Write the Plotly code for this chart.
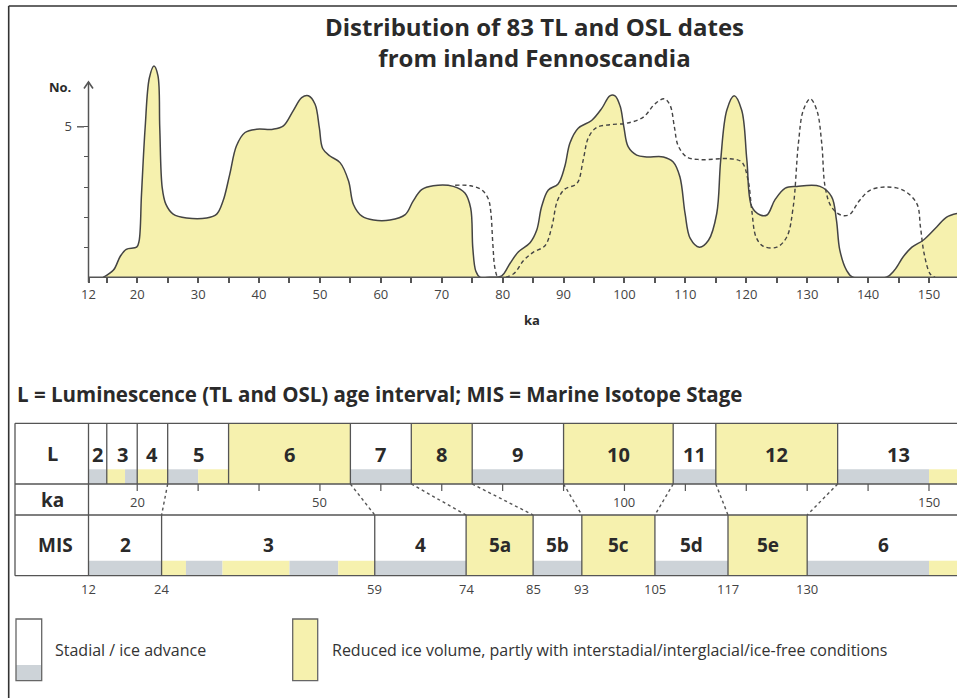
import plotly.graph_objects as go

# ---------------- data ----------------
SOLID_KA = [14.4, 16.1, 17.2, 18.2, 19.9, 20.3, 20.7, 21.3, 22.0, 22.75, 23.4, 23.7, 24.1, 24.7,
            25.9, 28.1, 31.4, 33.05, 34.1, 35.2, 36.3, 37.7, 39.6, 42.3, 44.0, 45.6, 47.0, 48.1,
            49.2, 49.9, 50.45, 51.65, 53.3, 54.7, 55.5, 56.9, 58.8, 61.5, 64.0, 65.3, 66.7, 68.6,
            71.9, 73.8, 74.75, 75.1, 75.6, 76.3, 77.9, 79.85, 81.2, 82.6, 84.5, 85.6, 86.4, 87.5,
            89.1, 90.2, 91.05, 92.4, 94.6, 96.3, 97.6, 98.45, 99.3, 99.9, 100.6, 102.0, 103.65,
            106.4, 108.0, 109.1, 109.95, 110.8, 112.3, 113.8, 115.15, 115.8, 116.8, 118.0, 119.25,
            120.1, 120.9, 122.3, 123.4, 124.7, 126.4, 128.3, 132.1, 134.0, 134.8, 135.35, 136.45,
            137.5, 143.0, 144.35, 145.8, 147.2, 149.1, 151.3, 152.9, 154.6]
SOLID_N = [0.0, 0.24, 0.69, 0.93, 1.0, 1.2, 2.75, 4.97, 6.63, 7.02, 6.7, 4.97, 2.98, 2.43,
           2.1, 1.97, 1.97, 2.1, 2.54, 3.43, 4.37, 4.81, 4.92, 4.92, 5.03, 5.53, 5.97, 6.03,
           5.75, 4.97, 4.28, 4.03, 3.81, 3.2, 2.42, 2.03, 1.9, 1.9, 2.08, 2.53, 2.91, 3.04,
           3.02, 2.8, 2.3, 0.97, 0.2, 0.0, 0.0, 0.05, 0.46, 0.85, 1.15, 1.57, 2.35, 2.9,
           3.1, 3.68, 4.46, 4.95, 5.21, 5.62, 6.03, 6.03, 5.68, 5.0, 4.34, 4.06, 4.0,
           4.0, 3.83, 3.34, 2.12, 1.29, 1.0, 1.23, 2.12, 3.89, 5.55, 6.03, 5.55,
           3.89, 2.35, 2.07, 2.07, 2.57, 2.96, 3.02, 3.02, 2.68, 1.91, 0.91, 0.24,
           0.0, 0.0, 0.24, 0.69, 1.0, 1.24, 1.68, 2.0, 2.12]

DASH_KA = [72.2, 74.7, 76.6, 77.65, 78.05, 78.4, 78.75, 79.3, 81.75, 83.4, 85.0, 86.95, 88.05,
           89.0, 90.2, 92.2, 93.2, 94.1, 95.45, 97.6, 100.4, 103.1, 105.0, 106.55, 107.5, 108.2,
           108.8, 110.2, 112.4, 117.3, 119.25, 120.3, 120.9, 121.6, 122.8, 125.0, 126.65, 127.7,
           128.55, 129.35, 130.5, 131.6, 132.4, 132.95, 134.0, 135.65, 137.0, 138.4, 140.3,
           143.05, 145.8, 148.0, 148.6, 149.2, 150.2, 151.0]
DASH_N = [3.06, 3.04, 2.9, 2.6, 2.18, 1.07, 0.29, 0.0, 0.11, 0.55, 0.83, 1.05, 1.66,
          2.55, 2.93, 3.12, 3.87, 4.65, 4.98, 5.07, 5.12, 5.32, 5.76, 5.93, 5.71, 4.99,
          4.38, 4.0, 3.91, 3.94, 3.83, 3.22, 2.23, 1.34, 1.03, 1.0, 1.34, 2.33,
          4.43, 5.54, 5.93, 5.54, 4.43, 3.0, 2.33, 2.06, 2.09, 2.5, 2.89,
          3.0, 2.89, 2.45, 1.67, 0.79, 0.11, 0.0]

TOP_TICK_VALS = [12, 15, 20, 25, 30, 35, 40, 45, 50, 55, 60, 65, 70, 75, 80, 85, 90, 95,
                 100, 105, 110, 115, 120, 125, 130, 135, 140, 145, 150]
TOP_TICK_TEXT = ['12', '', '20', '', '30', '', '40', '', '50', '', '60', '', '70', '', '80', '',
                 '90', '', '100', '', '110', '', '120', '', '130', '', '140', '', '150']
Y_TICK_VALS = [1, 2, 3, 4, 5]
Y_TICK_TEXT = ['', '', '', '', '5']

L_BOUNDS = [12, 15, 20, 25, 35, 55, 65, 75, 90, 108, 115, 135, 155]
L_LABELS = ['2', '3', '4', '5', '6', '7', '8', '9', '10', '11', '12', '13']
L_FILL = ['w', 'w', 'w', 'w', 'y', 'w', 'y', 'w', 'y', 'w', 'y', 'w']
L_STRIP_START = [12, 15, 18, 20, 25, 30, 55, 75, 108, 135, 150]
L_STRIP_END = [15, 18, 20, 25, 30, 35, 65, 90, 115, 150, 155]
L_STRIP_KIND = ['g', 'y', 'g', 'y', 'g', 'y', 'g', 'g', 'g', 'g', 'y']

MIS_BOUNDS = [12, 24, 59, 74, 85, 93, 105, 117, 130, 155]
MIS_LABELS = ['2', '3', '4', '5a', '5b', '5c', '5d', '5e', '6']
MIS_FILL = ['w', 'w', 'w', 'y', 'w', 'y', 'w', 'y', 'w']
MIS_STRIP_START = [12, 24, 28, 34, 45, 53, 59, 85, 105, 130, 150]
MIS_STRIP_END = [24, 28, 34, 45, 53, 59, 74, 93, 117, 150, 155]
MIS_STRIP_KIND = ['g', 'y', 'g', 'y', 'g', 'y', 'g', 'g', 'g', 'g', 'y']
MIS_EDGE_LABELS = [12, 24, 59, 74, 85, 93, 105, 117, 130]

KA_ROW_TICKS = [20, 30, 40, 50, 60, 70, 80, 90, 100, 110, 120, 130, 140, 150]
KA_ROW_LABELS = [20, 50, 100, 150]

CONNECT_L = [25, 55, 65, 75, 90, 108, 115, 135]
CONNECT_MIS = [24, 59, 74, 85, 93, 105, 117, 130]

TITLE = 'Distribution of 83 TL and OSL dates<br>from inland Fennoscandia'

# ---------------- style ----------------
W, H = 957, 698
YEL = '#F6F1AE'
GRY = '#CDD3D8'
LC = '#555555'
TC = '#2a2a2a'
FONT = 'Open Sans'
PX_PER_KA = 6.0905
X12_PX = 88.5
XR = [12 - X12_PX / PX_PER_KA, 12 + (W - X12_PX) / PX_PER_KA]
BASE_PX = 277.3
PX_PER_N = 30.1
SMOOTH = 1.0


def px(p):
    return p / W


def py(p):
    return 1 - p / H


fig = go.Figure()
fig.add_trace(go.Scatter(x=SOLID_KA, y=SOLID_N, mode='lines',
                         line=dict(color='#444444', width=1.5, shape='spline', smoothing=SMOOTH),
                         fill='tozeroy', fillcolor=YEL, hoverinfo='skip', showlegend=False))
fig.add_trace(go.Scatter(x=DASH_KA, y=DASH_N, mode='lines',
                         line=dict(color='#444444', width=1.4, dash='4px,3px', shape='spline', smoothing=SMOOTH),
                         hoverinfo='skip', showlegend=False))

shapes = []
ann = []


def rect(x0, x1, y0, y1, fill, xref='x', line=None):
    d = dict(type='rect', xref=xref, yref='paper', x0=x0, x1=x1, y0=py(y0), y1=py(y1),
             fillcolor=fill, layer='above')
    d['line'] = line if line else dict(width=0)
    shapes.append(d)


def hline(x0, x1, ypx, xref='paper', color=LC, width=1.3, dash='solid'):
    shapes.append(dict(type='line', xref=xref, yref='paper', x0=x0, x1=x1, y0=py(ypx), y1=py(ypx),
                       line=dict(color=color, width=width, dash=dash)))


def vline(x, y0px, y1px, xref='x', color=LC, width=1.3, dash='solid'):
    shapes.append(dict(type='line', xref=xref, yref='paper', x0=x, x1=x, y0=py(y0px), y1=py(y1px),
                       line=dict(color=color, width=width, dash=dash)))


# frame
hline(px(8.7), 1.0, 6, color='#333333', width=1.6)
vline(px(8.7), 6, H, xref='paper', color='#333333', width=1.6)

# top chart axes
hline(12, XR[1], BASE_PX, xref='x', color='#555555', width=1.5)
vline(px(X12_PX), BASE_PX + 5, 82, xref='paper', color='#555555', width=1.5)
shapes.append(dict(type='path', xref='paper', yref='paper',
                   path=f'M {px(X12_PX-4.5)},{py(88.5)} L {px(X12_PX)},{py(82)} L {px(X12_PX+4.5)},{py(88.5)}',
                   line=dict(color='#555555', width=1.6)))
shapes.append(dict(type='line', xref='paper', yref='y', x0=px(77), x1=px(84), y0=5, y1=5,
                   line=dict(color='#555555', width=1.4)))

# table geometry (px)
T_TOP, T_KA, T_MIS, T_BOT = 423.3, 484, 515, 575.7
L_STRIP_TOP, MIS_STRIP_TOP = 469.3, 560.7

# L row fills
for i, f in enumerate(L_FILL):
    if f == 'y':
        rect(L_BOUNDS[i], L_BOUNDS[i + 1], T_TOP, T_KA, YEL)
for s, e, k in zip(L_STRIP_START, L_STRIP_END, L_STRIP_KIND):
    rect(s, e, L_STRIP_TOP, T_KA, YEL if k == 'y' else GRY)
# MIS row fills
for i, f in enumerate(MIS_FILL):
    if f == 'y':
        rect(MIS_BOUNDS[i], MIS_BOUNDS[i + 1], T_MIS, T_BOT, YEL)
for s, e, k in zip(MIS_STRIP_START, MIS_STRIP_END, MIS_STRIP_KIND):
    rect(s, e, MIS_STRIP_TOP, T_BOT, YEL if k == 'y' else GRY)

# table lines
for ypx in (T_TOP, T_KA, T_MIS, T_BOT):
    hline(px(15), 1.0, ypx)
vline(px(15), T_TOP, T_BOT, xref='paper')
vline(12, T_TOP, T_BOT)
for b in L_BOUNDS[1:-1]:
    vline(b, T_TOP, T_KA)
for b in MIS_BOUNDS[1:-1]:
    vline(b, T_MIS, T_BOT)
for t in KA_ROW_TICKS:
    vline(t, T_KA, T_KA + 7, width=1.2)
for a, b in zip(CONNECT_L, CONNECT_MIS):
    shapes.append(dict(type='line', xref='x', yref='paper', x0=a, x1=b, y0=py(T_KA), y1=py(T_MIS),
                       line=dict(color=LC, width=1.4, dash='dot')))

# legend boxes
rect(px(16), px(41.7), 619, 680.7, 'white', xref='paper')
rect(px(16), px(41.7), 665, 680.7, GRY, xref='paper')
rect(px(16), px(41.7), 619, 680.7, 'rgba(0,0,0,0)', xref='paper', line=dict(color='#666666', width=1.3))
rect(px(292.7), px(317.7), 619, 680.7, YEL, xref='paper', line=dict(color='#666666', width=1.3))


def text(x, ypx, s, size, xref='x', bold=False, xanchor='center', color=TC):
    ann.append(dict(x=x, y=py(ypx), xref=xref, yref='paper', text=f'<b>{s}</b>' if bold else s,
                    showarrow=False, xanchor=xanchor, yanchor='middle',
                    font=dict(family=FONT, size=size, color=color)))


# titles
text(px(534), 42, TITLE, 24, xref='paper', bold=True)
text(px(60), 87, 'No.', 13, xref='paper', bold=True)
text(px(532), 320, 'ka', 13, xref='paper', bold=True)
text(px(15), 394, 'L = Luminescence (TL and OSL) age interval; MIS = Marine Isotope Stage', 20.5,
     xref='paper', bold=True, xanchor='left')

# table labels
text(px(52), (T_TOP + T_KA) / 2, 'L', 20, xref='paper', bold=True)
text(px(52), (T_KA + T_MIS) / 2 + 1, 'ka', 19, xref='paper', bold=True)
text(px(55), (T_MIS + T_BOT) / 2, 'MIS', 19, xref='paper', bold=True)
for i, lab in enumerate(L_LABELS):
    c = (L_BOUNDS[i] + L_BOUNDS[i + 1]) / 2
    if i == len(L_LABELS) - 1:
        c = 145
    text(c, (T_TOP + T_KA) / 2 + 1, lab, 20, bold=True)
for i, lab in enumerate(MIS_LABELS):
    c = (MIS_BOUNDS[i] + MIS_BOUNDS[i + 1]) / 2
    text(c, (T_MIS + T_BOT) / 2, lab, 19, bold=True)
for v in KA_ROW_LABELS:
    text(v, 502, str(v), 13, color='#444444')
for v in MIS_EDGE_LABELS:
    text(v, 589, str(v), 13, color='#444444')

# legend texts
text(px(53), 650, 'Stadial / ice advance', 16, xref='paper', xanchor='left', color='#333333')
text(px(330), 650, 'Reduced ice volume, partly with interstadial/interglacial/ice-free conditions', 16,
     xref='paper', xanchor='left', color='#333333')

fig.update_layout(
    width=W, height=H, margin=dict(l=0, r=0, t=0, b=0),
    paper_bgcolor='white', plot_bgcolor='rgba(0,0,0,0)',
    showlegend=False, shapes=shapes, annotations=ann,
    font=dict(family=FONT, color=TC),
    xaxis=dict(domain=[0, 1], range=XR, showgrid=False, zeroline=False, showline=False,
               ticks='outside', ticklen=5, tickwidth=1.5, tickcolor='#555555',
               tickvals=TOP_TICK_VALS, ticktext=TOP_TICK_TEXT,
               tickfont=dict(family=FONT, size=13, color='#444444'), fixedrange=True),
    yaxis=dict(domain=[py(BASE_PX), 1], range=[0, BASE_PX / PX_PER_N], anchor='free', position=px(X12_PX),
               showgrid=False, zeroline=False, showline=False, ticks='outside', ticklen=5, tickwidth=1.4,
               tickcolor='#555555', tickvals=Y_TICK_VALS, ticktext=Y_TICK_TEXT, ticklabelstandoff=9,
               tickfont=dict(family=FONT, size=13, color='#444444'), fixedrange=True),
)

fig.write_html('out.html', config={'displayModeBar': False},
               post_script="document.body.style.margin='0';document.body.style.overflow='hidden';")
